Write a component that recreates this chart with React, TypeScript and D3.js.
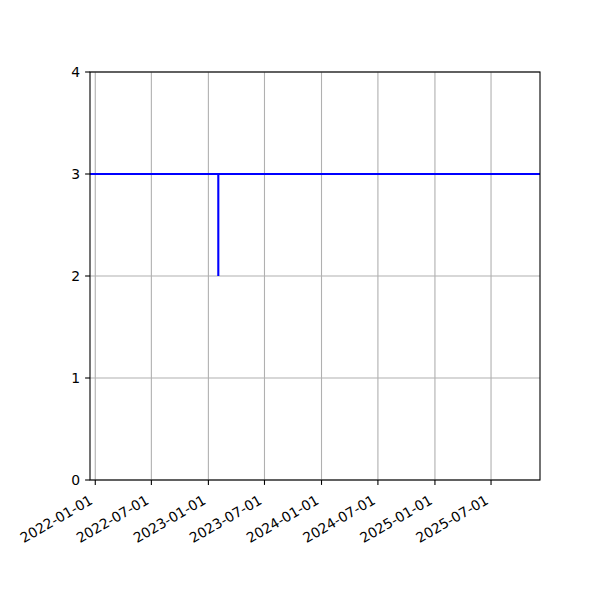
import React from 'react';
import * as d3 from 'd3';

// Line series: flat at 3 with a single dip to 2
const seriesDates = ['2021-12-01', '2023-02-02', '2023-02-02', '2023-02-02', '2026-01-01'];
const seriesValues = [3, 3, 2, 3, 3];

const xTickLabels = ['2022-01-01', '2022-07-01', '2023-01-01', '2023-07-01', '2024-01-01', '2024-07-01', '2025-01-01', '2025-07-01'];
const yTicks = [0, 1, 2, 3, 4];
const xLimits = ['2021-12-15', '2025-12-06'];

const parse = d3.utcParse('%Y-%m-%d');

export default function App() {
  const width = 600;
  const height = 600;
  const margin = { top: 72, right: 60, bottom: 120, left: 90 };
  const innerWidth = width - margin.left - margin.right;
  const innerHeight = height - margin.top - margin.bottom;

  const xScale = d3.scaleUtc()
    .domain(xLimits.map(d => parse(d) as Date))
    .range([0, innerWidth]);

  const yScale = d3.scaleLinear()
    .domain([0, 4])
    .range([innerHeight, 0]);

  const data = seriesDates.map((d, i) => ({ date: parse(d) as Date, value: seriesValues[i] }));

  const line = d3.line<{ date: Date; value: number }>()
    .x(d => xScale(d.date))
    .y(d => yScale(d.value));

  const font = 'DejaVu Sans, sans-serif';
  const fontSize = 13.9;

  return (
    <svg width={width} height={height} style={{ display: 'block', margin: '-8px' }}>
      <rect width={width} height={height} fill="#fff" />
      <defs>
        <clipPath id="plot-clip">
          <rect x={0} y={0} width={innerWidth} height={innerHeight} />
        </clipPath>
      </defs>
      <g transform={`translate(${margin.left},${margin.top})`}>
        {/* grid */}
        {xTickLabels.map(t => (
          <line key={`gx-${t}`} x1={xScale(parse(t) as Date)} x2={xScale(parse(t) as Date)} y1={0} y2={innerHeight}
            stroke="#b0b0b0" strokeWidth={1.1} />
        ))}
        {yTicks.map(t => (
          <line key={`gy-${t}`} x1={0} x2={innerWidth} y1={yScale(t)} y2={yScale(t)}
            stroke="#b0b0b0" strokeWidth={1.1} />
        ))}

        {/* series */}
        <path d={line(data) || ''} fill="none" stroke="#0000ff" strokeWidth={2.1} clipPath="url(#plot-clip)" />

        {/* frame */}
        <rect x={0} y={0} width={innerWidth} height={innerHeight} fill="none" stroke="#000" strokeWidth={1.1} />

        {/* y axis */}
        {yTicks.map(t => (
          <g key={`ty-${t}`} transform={`translate(0,${yScale(t)})`}>
            <line x1={-4.9} x2={0} stroke="#000" strokeWidth={1.1} />
            <text x={-9.8} dy="0.36em" textAnchor="end" fontFamily={font} fontSize={fontSize}>{t}</text>
          </g>
        ))}

        {/* x axis, labels rotated 30° and right-aligned to the tick */}
        {xTickLabels.map(t => {
          const x = xScale(parse(t) as Date);
          return (
            <g key={`tx-${t}`} transform={`translate(${x},${innerHeight})`}>
              <line y1={0} y2={4.9} stroke="#000" strokeWidth={1.1} />
              <text transform="translate(-1.5,23) rotate(-30)" textAnchor="end"
                fontFamily={font} fontSize={fontSize}>{t}</text>
            </g>
          );
        })}
      </g>
    </svg>
  );
}
